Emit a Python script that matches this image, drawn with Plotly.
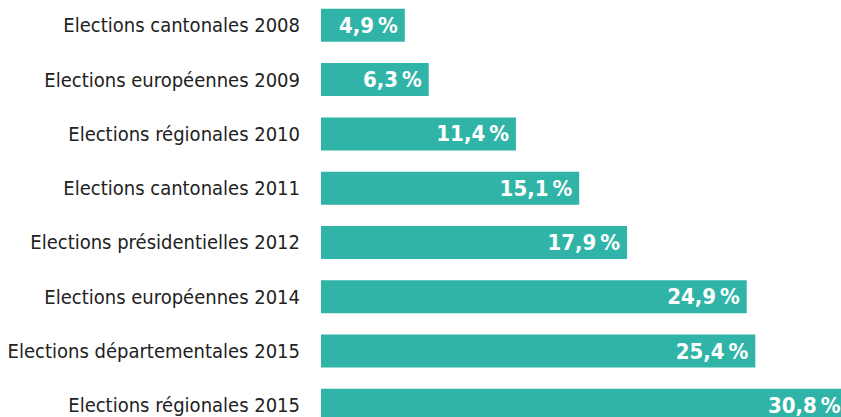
import plotly.graph_objects as go

categories = [
    "Elections cantonales 2008",
    "Elections européennes 2009",
    "Elections régionales 2010",
    "Elections cantonales 2011",
    "Elections présidentielles 2012",
    "Elections européennes 2014",
    "Elections départementales 2015",
    "Elections régionales 2015",
]
values = [4.9, 6.3, 11.4, 15.1, 17.9, 24.9, 25.4, 30.8]
labels = [f"{v:.1f}".replace(".", ",") + "\u2009%\u2009" for v in values]

FONT = "DejaVu Sans Condensed, DejaVu Sans, sans-serif"

fig = go.Figure(
    go.Bar(
        x=values,
        y=categories,
        orientation="h",
        marker=dict(color="#2fb4a7", line=dict(width=0)),
        width=0.608,
        text=labels,
        textposition="inside",
        insidetextanchor="end",
        textangle=0,
        textfont=dict(family=FONT, size=22, color="white", weight="bold"),
        cliponaxis=False,
        hoverinfo="skip",
    )
)

# figure is a little wider than the 841px window: the right end is cut off
# by the window edge, as in the reference
fig.update_layout(
    width=849,
    height=417,
    margin=dict(l=321, r=0, t=0, b=0, autoexpand=False),
    paper_bgcolor="white",
    plot_bgcolor="white",
    showlegend=False,
)
fig.update_xaxes(range=[0, 30.88], visible=False, fixedrange=True)
fig.update_yaxes(
    categoryorder="array",
    categoryarray=categories,
    range=[7.214, -0.466],
    showgrid=False,
    zeroline=False,
    showline=False,
    ticks="",
    automargin=False,
    ticklabelstandoff=20,
    tickfont=dict(family=FONT, size=20, color="#222222"),
    fixedrange=True,
)

fig.write_html(
    "out.html",
    config={"displayModeBar": False, "staticPlot": True},
    post_script="document.body.style.margin='0';document.body.style.overflow='hidden';",
)
